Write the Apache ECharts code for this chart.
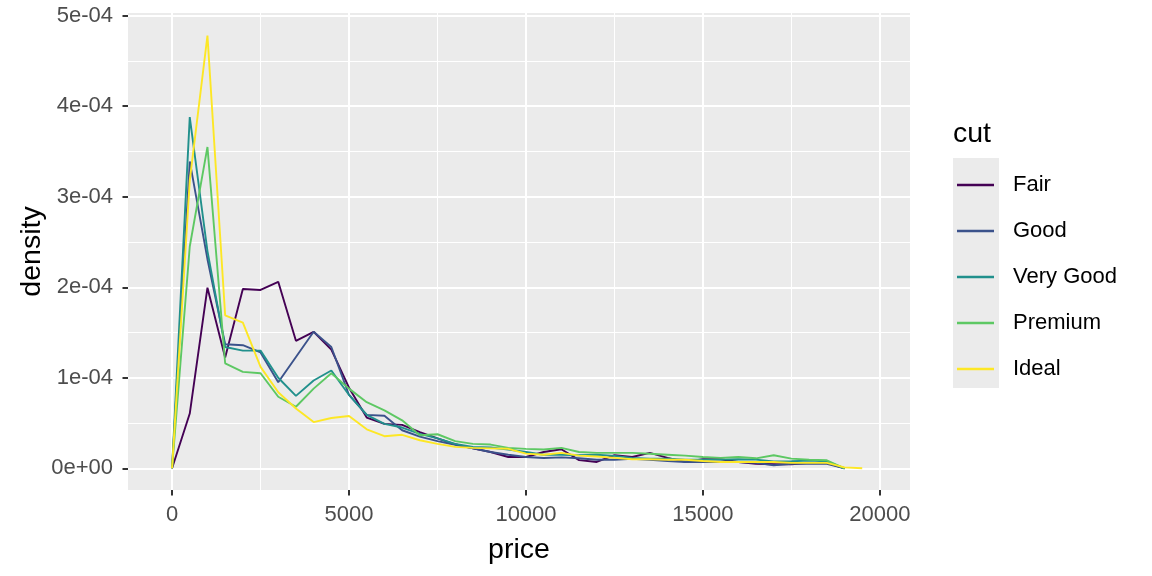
<!DOCTYPE html>
<html>
<head>
<meta charset="utf-8">
<script src="https://cdn.jsdelivr.net/npm/echarts@6/dist/echarts.min.js"></script>
<style>
html,body{margin:0;padding:0;background:#fff;}
#chart{width:1152px;height:576px;}
</style>
</head>
<body>
<div id="chart"></div>
<script>
// price bin centres (binwidth 500)
const priceBins = [0,500,1000,1500,2000,2500,3000,3500,4000,4500,5000,5500,6000,6500,7000,7500,8000,8500,9000,9500,10000,10500,11000,11500,12000,12500,13000,13500,14000,14500,15000,15500,16000,16500,17000,17500,18000,18500,19000,19500];

// density values, in units of 1e-04
const fair     = [0,0.605,1.995,1.224,1.98,1.97,2.06,1.408,1.508,1.31,0.89,0.56,0.49,0.48,0.40,0.33,0.265,0.22,0.18,0.125,0.125,0.18,0.21,0.09,0.07,0.145,0.125,0.17,0.115,0.07,0.10,0.10,0.07,0.05,0.045,0.045,0.06,0.06,0,null];
const good     = [0,3.39,2.31,1.37,1.36,1.28,0.95,1.23,1.508,1.34,0.81,0.59,0.58,0.42,0.35,0.30,0.26,0.22,0.18,0.15,0.125,0.114,0.12,0.11,0.095,0.095,0.105,0.095,0.08,0.07,0.07,0.07,0.07,0.06,0.033,0.05,0.05,0.05,0,null];
const veryGood = [0,3.88,2.40,1.34,1.30,1.30,1.0,0.80,0.97,1.08,0.81,0.59,0.49,0.45,0.38,0.33,0.27,0.236,0.23,0.207,0.18,0.15,0.15,0.144,0.15,0.137,0.115,0.107,0.107,0.096,0.096,0.096,0.10,0.096,0.075,0.077,0.085,0.077,0,null];
const premium  = [0,2.45,3.55,1.16,1.065,1.05,0.79,0.68,0.88,1.05,0.88,0.73,0.64,0.53,0.365,0.376,0.30,0.27,0.262,0.225,0.214,0.207,0.225,0.18,0.17,0.17,0.17,0.16,0.15,0.14,0.125,0.115,0.125,0.11,0.144,0.107,0.095,0.088,0,null];
const ideal    = [0,3.18,4.78,1.69,1.61,1.12,0.84,0.66,0.51,0.555,0.577,0.43,0.354,0.37,0.31,0.27,0.236,0.225,0.22,0.215,0.162,0.15,0.17,0.14,0.13,0.115,0.10,0.10,0.095,0.095,0.08,0.07,0.07,0.07,0.07,0.06,0.06,0.06,0.01,0];

const cutNames = ["Fair","Good","Very Good","Premium","Ideal"];
const cutColors = ["#440154","#3B528B","#21908C","#5DC863","#FDE725"];
const cutValues = [fair, good, veryGood, premium, ideal];

const xMajorTicks = [0,5000,10000,15000,20000];
const xMajorLabels = ["0","5000","10000","15000","20000"];
const xMinorTicks = [2500,7500,12500,17500];
const yMajorTicks = [0,1,2,3,4,5];
const yMajorLabels = ["0e+00","1e-04","2e-04","3e-04","4e-04","5e-04"];
const yMinorTicks = [0.5,1.5,2.5,3.5,4.5];

const FONT = "'Liberation Sans', Arial, sans-serif";
const X_MIN = -1245, X_MAX = 20850, Y_MIN = -0.24, Y_MAX = 5.03;

const chart = echarts.init(document.getElementById('chart'));

const series = cutNames.map((name, i) => ({
  name: name,
  type: 'line',
  xAxisIndex: 0,
  yAxisIndex: 0,
  symbol: 'none',
  showSymbol: false,
  z: 5 + i,
  lineStyle: { color: cutColors[i], width: 1.9 },
  itemStyle: { color: cutColors[i] },
  data: priceBins.map((x, k) => [x, cutValues[i][k]]).filter(p => p[1] !== null)
}));

chart.setOption({
  animation: false,
  textStyle: { fontFamily: FONT },
  title: {
    text: 'cut', left: 953, top: 120, padding: 0,
    textStyle: { fontFamily: FONT, fontSize: 28.5, fontWeight: 'normal', color: '#000', lineHeight: 28.5 }
  },
  graphic: [{
    type: 'rect', left: 953, top: 158, z: 0,
    shape: { width: 46, height: 230 },
    style: { fill: '#EBEBEB' }
  }],
  legend: {
    orient: 'vertical', left: 957, top: 174, padding: 0,
    icon: 'rect', itemWidth: 37, itemHeight: 2.5, itemGap: 24,
    data: cutNames,
    textStyle: { fontFamily: FONT, fontSize: 22, color: '#000', lineHeight: 22, padding: [0,0,0,14] },
    selectedMode: false
  },
  grid: {
    left: 128, right: 242, top: 13, bottom: 86,
    show: true, backgroundColor: '#EBEBEB', borderWidth: 0
  },
  xAxis: [{
    type: 'value', min: X_MIN, max: X_MAX,
    name: 'price', nameLocation: 'middle', nameGap: 46, nameMoveOverlap: false,
    nameTextStyle: { fontFamily: FONT, fontSize: 28.5, color: '#000' },
    axisLine: { show: false, onZero: false },
    axisTick: { show: true, length: 5.5, customValues: xMajorTicks, lineStyle: { color: '#333333', width: 2 } },
    axisLabel: { customValues: xMajorTicks, margin: 14, fontFamily: FONT, fontSize: 22, color: '#4D4D4D',
      formatter: v => xMajorLabels[xMajorTicks.indexOf(v)] },
    splitLine: { show: true, lineStyle: { color: '#FFFFFF', width: 2 } }
  }, {
    type: 'value', min: X_MIN, max: X_MAX, position: 'bottom',
    axisLine: { show: false, onZero: false },
    axisTick: { show: false, customValues: xMinorTicks },
    axisLabel: { show: false, customValues: xMinorTicks },
    splitLine: { show: true, lineStyle: { color: '#FFFFFF', width: 1 } }
  }],
  yAxis: [{
    type: 'value', min: Y_MIN, max: Y_MAX,
    name: 'density', nameLocation: 'middle', nameGap: 81, nameRotate: 90, nameMoveOverlap: false,
    nameTextStyle: { fontFamily: FONT, fontSize: 28.5, color: '#000' },
    axisLine: { show: false, onZero: false },
    axisTick: { show: true, length: 5.5, customValues: yMajorTicks, lineStyle: { color: '#333333', width: 2 } },
    axisLabel: { customValues: yMajorTicks, margin: 15, fontFamily: FONT, fontSize: 22, color: '#4D4D4D',
      formatter: v => yMajorLabels[yMajorTicks.indexOf(v)] },
    splitLine: { show: true, lineStyle: { color: '#FFFFFF', width: 2 } }
  }, {
    type: 'value', min: Y_MIN, max: Y_MAX, position: 'left',
    axisLine: { show: false, onZero: false },
    axisTick: { show: false, customValues: yMinorTicks },
    axisLabel: { show: false, customValues: yMinorTicks },
    splitLine: { show: true, lineStyle: { color: '#FFFFFF', width: 1 } }
  }],
  series: series
});
</script>
</body>
</html>
